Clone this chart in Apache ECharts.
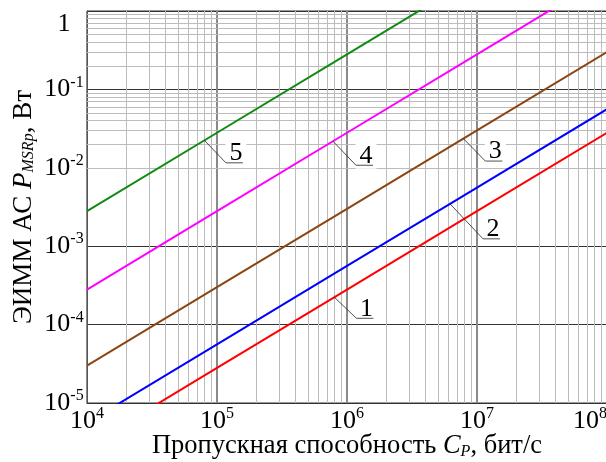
<!DOCTYPE html>
<html>
<head>
<meta charset="utf-8">
<script src="https://cdn.jsdelivr.net/npm/echarts@6/dist/echarts.min.js"></script>
<style>
  html, body { margin: 0; padding: 0; background: #fff; }
  #chart { width: 606px; height: 462px; }
</style>
</head>
<body>
<div id="chart"></div>
<script>
// capacity C_P, bit/s
const capacity = [1e4, 1e5, 1e6, 1e7, 1e8];
// power P_MSRp, W (curves 1..5)
const power1 = [2.8e-6, 2.8e-5, 2.8e-4, 2.8e-3, 2.8e-2];
const power2 = [5.6e-6, 5.6e-5, 5.6e-4, 5.6e-3, 5.6e-2];
const power3 = [3.0e-5, 3.0e-4, 3.0e-3, 3.0e-2, 0.30];
const power4 = [2.8e-4, 2.8e-3, 2.8e-2, 0.28, 2.8];
const power5 = [2.8e-3, 2.8e-2, 0.28, 2.8, 28];

const xTicks = [1e4, 1e5, 1e6, 1e7, 1e8];
const yTicks = [1e-5, 1e-4, 1e-3, 1e-2, 1e-1, 1];
const minorSteps = [2, 3, 4, 5, 6, 7, 8, 9];

// curve numbers and the points where their leaders start
const labelTexts = ['1', '2', '3', '4', '5'];
const labelAnchorX = [8.0e5, 6.2e6, 7.85e6, 7.8e5, 8.0e4];
const labelAnchorY = [2.23e-4, 3.47e-3, 2.36e-2, 2.18e-2, 2.24e-2];

const colors = ['#ff0000', '#0000ff', '#8b4513', '#ff00ff', '#108a10'];
const leaderOffsets = [[22, 21], [33, 35], [22, 22.5], [23, 24], [21.5, 22.5]];
const FONT = '"Liberation Serif", "Times New Roman", serif';

const minorX = [];
xTicks.slice(0, -1).forEach(d => minorSteps.forEach(m => minorX.push(d * m)));
const minorY = [];
yTicks.slice(0, -1).forEach(d => minorSteps.forEach(m => minorY.push(d * m)));

function pairs(ys) {
    return capacity.map((c, i) => [c, ys[i]]);
}

function expLabel(v) {
    const e = Math.round(Math.log10(v));
    if (e === 0) return '{one|1}';
    return '{b|10}{sup|' + (e < 0 ? '-' + (-e) : e) + '}';
}

const richLabel = {
    b: { fontFamily: FONT, fontSize: 26, lineHeight: 30, color: '#000' },
    sup: { fontFamily: FONT, fontSize: 16, lineHeight: 16, verticalAlign: 'top', color: '#000' },
    one: { fontFamily: FONT, fontSize: 26, lineHeight: 26, padding: [26, 0, 0, 0], color: '#000' }
};

const gridSeries = {
    type: 'line',
    data: [],
    silent: true,
    z: 1,
    markLine: {
        silent: true,
        z: 1,
        symbol: 'none',
        label: { show: false },
        lineStyle: { color: '#bcbcbc', width: 1, type: 'solid' },
        emphasis: { disabled: true },
        data: minorX.map(v => ({ xAxis: v })).concat(minorY.map(v => ({ yAxis: v })))
    }
};

const curves = [power1, power2, power3, power4, power5].map((p, i) => ({
    name: labelTexts[i],
    type: 'line',
    data: pairs(p),
    showSymbol: false,
    z: 10,
    lineStyle: { color: colors[i], width: 2 },
    itemStyle: { color: colors[i] }
}));

const chart = echarts.init(document.getElementById('chart'));
chart.setOption({
    animation: false,
    backgroundColor: '#fff',
    grid: {
        left: 87, top: 11, right: -1, bottom: 59,
        outerBoundsMode: 'none', containLabel: false,
        show: true, borderColor: '#333', borderWidth: 1
    },
    xAxis: {
        type: 'log',
        logBase: 10,
        min: 1e4,
        max: 1e8,
        axisLine: { show: true, lineStyle: { color: '#333', width: 1 } },
        axisTick: { show: false },
        splitLine: { show: true, lineStyle: { color: '#8a8a8a', width: 2 } },
        axisLabel: { margin: 3, formatter: expLabel, rich: richLabel, showMaxLabel: true, alignMaxLabel: 'right' },
        name: 'Пропускная способность {it|C}{sub|P}, бит/с',
        nameLocation: 'middle',
        nameGap: 30,
        nameMoveOverlap: false,
        nameTextStyle: {
            fontFamily: FONT, fontSize: 26.5, color: '#000',
            rich: {
                it: { fontFamily: FONT, fontSize: 26.5, fontStyle: 'italic', color: '#000' },
                sub: { fontFamily: FONT, fontSize: 16, fontStyle: 'italic', verticalAlign: 'bottom', color: '#000' }
            }
        }
    },
    yAxis: {
        type: 'log',
        logBase: 10,
        min: 1e-5,
        max: 1,
        axisLine: { show: true, lineStyle: { color: '#555', width: 1 } },
        axisTick: { show: false },
        splitLine: { show: true, lineStyle: { color: '#333', width: 1 } },
        axisLabel: { margin: 23, align: 'center', formatter: expLabel, rich: richLabel },
        name: 'ЭИММ АС {it|P}{sub|MSRp}, Вт',
        nameLocation: 'middle',
        nameGap: 50,
        nameMoveOverlap: false,
        nameTextStyle: {
            fontFamily: FONT, fontSize: 27, color: '#000',
            rich: {
                it: { fontFamily: FONT, fontSize: 27, fontStyle: 'italic', color: '#000' },
                sub: { fontFamily: FONT, fontSize: 16, fontStyle: 'italic', verticalAlign: 'bottom', color: '#000' }
            }
        }
    },
    series: [gridSeries].concat(curves)
});

// numbered leaders next to the curves
const graphics = [];
labelTexts.forEach((t, i) => {
    const p = chart.convertToPixel({ xAxisIndex: 0, yAxisIndex: 0 }, [labelAnchorX[i], labelAnchorY[i]]);
    const [dx, dy] = leaderOffsets[i];
    const ex = p[0] + dx, ey = p[1] + dy;
    graphics.push({
        type: 'text',
        z: 100,
        style: {
            text: t, x: ex + 10, y: ey - 9.5,
            font: '26px ' + FONT, fill: '#000',
            align: 'center', verticalAlign: 'middle',
            backgroundColor: '#fff', padding: [0, 4]
        }
    });
    graphics.push({
        type: 'polyline',
        z: 101,
        shape: { points: [[p[0], p[1]], [ex, ey], [ex + 17, ey]] },
        style: { stroke: '#222', lineWidth: 0.8, fill: null }
    });
});
chart.setOption({ graphic: graphics });
</script>
</body>
</html>
